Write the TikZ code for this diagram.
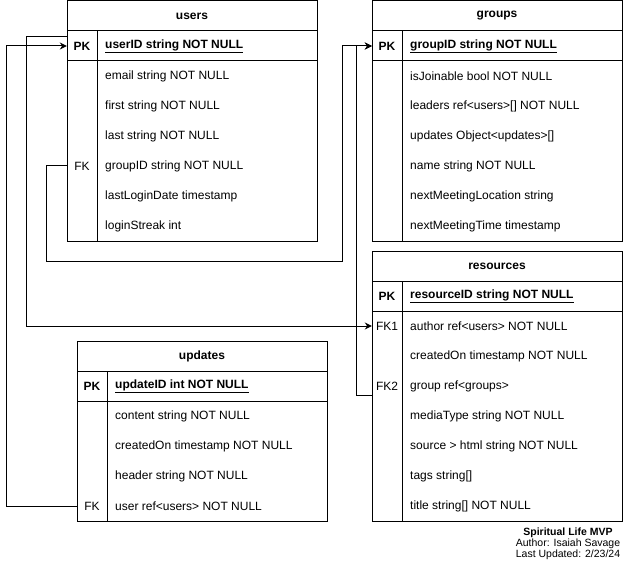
\documentclass[tikz,border=0pt]{standalone}
\usepackage{fontspec}
\setmainfont{Liberation Sans}
\usetikzlibrary{arrows.meta}
\begin{document}
\begin{tikzpicture}[x=1pt,y=-1pt,
    font=\fontsize{12}{14}\selectfont,
    tablebox/.style={draw, line width=1pt, minimum width=250pt, inner sep=0pt},
    keycell/.style={minimum width=30pt, minimum height=30pt, inner sep=0pt},
    pkcell/.style={keycell, font=\fontsize{12}{14}\selectfont\bfseries},
    field/.style={anchor=west, inner sep=0pt},
    pkfield/.style={field, font=\fontsize{12}{14}\selectfont\bfseries},
    title/.style={inner sep=0pt, font=\fontsize{12}{14}\selectfont\bfseries},
    rule/.style={line width=1pt},
    link/.style={line width=1pt},
    ref/.style={link, -{Stealth[length=7pt,width=7pt]}}]
   \useasboundingbox (0,0) rectangle (623,561);

   % users
   \node[tablebox, minimum height=240pt] (users) at (192,121) {};
   \draw[rule] (67,31) -- (317,31);
   \draw[rule] (67,61) -- (317,61);
   \draw[rule] (97,31) -- (97,241);
   \node[title] (usersTitle) at (192,16) {users};
   \node[pkcell] (usersPK) at (82,46) {PK};
   \node[pkfield] (usersID) at (105,46) {\underline{userID string NOT NULL}};
   \node[keycell] (usersFK) at (82,166) {FK};
   \foreach \t [count=\i] in {email string NOT NULL, first string NOT NULL,
       last string NOT NULL, groupID string NOT NULL,
       lastLoginDate timestamp, loginStreak int}
     \node[field] (users-\i) at (105,46+30*\i) {\t};

   % groups
   \node[tablebox, minimum height=240pt] (groups) at (497,121) {};
   \draw[rule] (372,31) -- (622,31);
   \draw[rule] (372,61) -- (622,61);
   \draw[rule] (402,31) -- (402,241);
   \node[title] (groupsTitle) at (497,16) {groups};
   \node[pkcell] (groupsPK) at (387,46) {PK};
   \node[pkfield] (groupsID) at (410,46) {\underline{groupID string NOT NULL}};
   \foreach \t [count=\i] in {isJoinable bool NOT NULL,
       leaders ref<users>[] NOT NULL, updates Object<updates>[],
       name string NOT NULL, nextMeetingLocation string,
       nextMeetingTime timestamp}
     \node[field] (groups-\i) at (410,46+30*\i) {\t};

   % resources
   \node[tablebox, minimum height=270pt] (resources) at (497,386) {};
   \draw[rule] (372,281) -- (622,281);
   \draw[rule] (372,311) -- (622,311);
   \draw[rule] (402,281) -- (402,521);
   \node[title] (resourcesTitle) at (497,266) {resources};
   \node[pkcell] (resourcesPK) at (387,296) {PK};
   \node[pkfield] (resourcesID) at (410,296) {\underline{resourceID string NOT NULL}};
   \node[keycell] (resourcesFKa) at (387,326) {FK1};
   \node[keycell] (resourcesFKb) at (387,386) {FK2};
   \foreach \t [count=\i] in {author ref<users> NOT NULL,
       createdOn timestamp NOT NULL, group ref<groups>,
       mediaType string NOT NULL, source > html string NOT NULL,
       tags string[], title string[] NOT NULL}
     \node[field] (resources-\i) at (410,296+30*\i) {\t};

   % updates
   \node[tablebox, minimum height=180pt] (updates) at (202,431) {};
   \draw[rule] (77,371) -- (327,371);
   \draw[rule] (77,401) -- (327,401);
   \draw[rule] (107,371) -- (107,521);
   \node[title] (updatesTitle) at (202,356) {updates};
   \node[pkcell] (updatesPK) at (92,386) {PK};
   \node[pkfield] (updatesID) at (115,386) {\underline{updateID int NOT NULL}};
   \node[keycell] (updatesFK) at (92,506) {FK};
   \foreach \t [count=\i] in {content string NOT NULL,
       createdOn timestamp NOT NULL, header string NOT NULL,
       user ref<users> NOT NULL}
     \node[field] (updates-\i) at (115,386+30*\i) {\t};

   % links
   \coordinate (groupsBend) at (342,261);
   \draw[ref] (updatesFK.west) -- ++(-70,0) |- (usersPK.west);
   \draw[ref] ([yshift=9pt]usersPK.west) -- ++(-40,0) |- (resourcesFKa.west);
   \draw[ref] (usersFK.west) -- ++(-20,0) |- (groupsBend) |- (groupsPK.west);
   \draw[ref] ([yshift=-9pt]resourcesFKb.west) -- ++(-15,0) |- (groupsPK.west);

   % note
   \node[anchor=north, inner sep=0pt, align=center,
         font=\fontsize{10.5}{10.7}\selectfont] (credits) at (568,528)
     {\textbf{Spiritual Life MVP}\\Author: Isaiah Savage\\Last Updated: 2/23/24};
 \end{tikzpicture}
\end{document}
